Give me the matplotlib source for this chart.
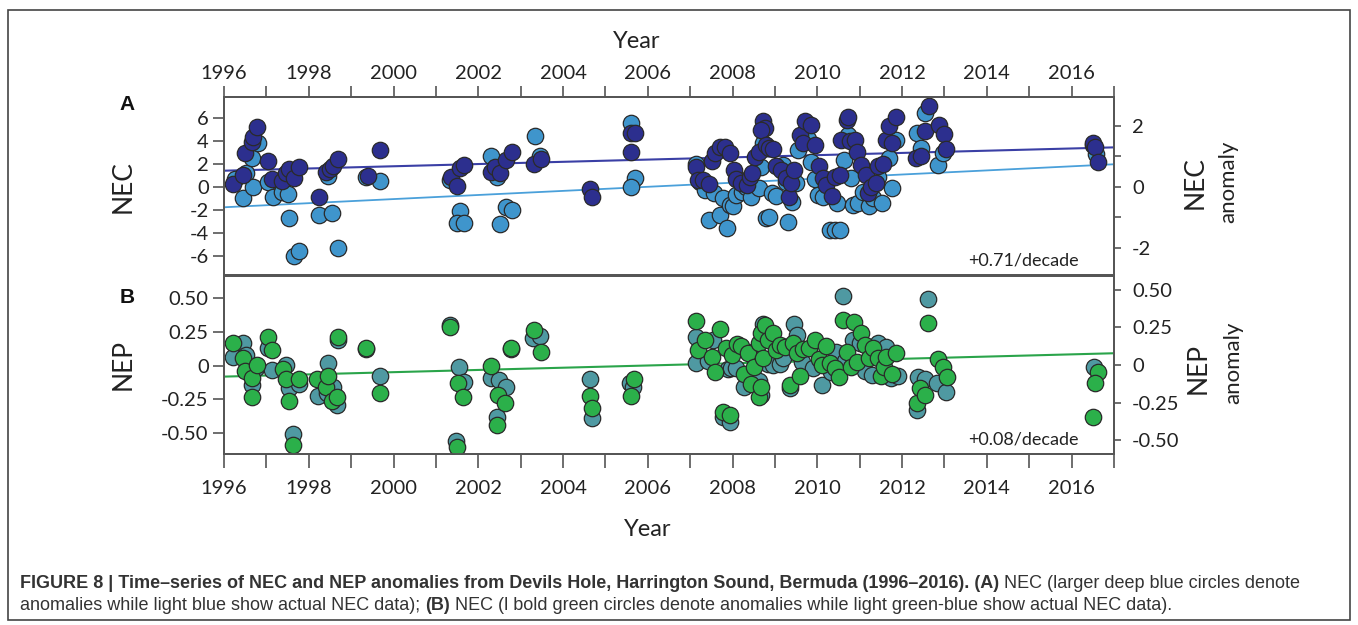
import matplotlib
matplotlib.use("Agg")
import matplotlib.pyplot as plt
from matplotlib.patches import Rectangle
from matplotlib.ticker import MultipleLocator

plt.rcParams['font.family'] = ['Lato', 'DejaVu Sans']
plt.rcParams['axes.unicode_minus'] = False

# ---- NEC (panel A): light blue = actual NEC, deep blue = anomalies
nec_years = [1996.26, 1996.44, 1996.53, 1996.67, 1996.81, 1996.69, 1997.03, 1997.15, 1997.38, 1997.50,
             1997.54, 1997.65, 1997.77, 1998.24, 1998.46, 1998.56, 1998.69, 1999.36, 1999.69, 2001.33,
             2001.56, 2001.49, 2001.66, 2002.31, 2002.45, 2002.51, 2002.65, 2002.80, 2003.34, 2003.46,
             2005.60, 2005.69, 2005.61, 2007.14, 2007.23, 2007.36, 2007.45, 2007.57, 2007.71, 2007.77,
             2007.88, 2007.93, 2008.02, 2008.09, 2008.23, 2008.31, 2008.44, 2008.63, 2008.68, 2008.72,
             2008.80, 2008.87, 2008.94, 2009.03, 2009.18, 2009.25, 2009.30, 2009.40, 2009.50, 2009.54,
             2009.77, 2009.86, 2009.94, 2010.02, 2010.13, 2010.29, 2010.41, 2010.53, 2010.46, 2010.64,
             2010.72, 2010.80, 2010.85, 2010.95, 2011.07, 2011.21, 2011.32, 2011.42, 2011.53, 2011.70,
             2011.77, 2011.86, 2012.36, 2012.44, 2012.55, 2012.84, 2012.96, 2016.58, 2016.50]
nec_values = [0.64, -1.0, 1.22, 2.47, 3.83, 0.0, 0.43, -0.87, -0.43, -0.63,
              -2.75, -6.0, -5.6, -2.46, 0.93, -2.26, -5.3, 0.81, 0.52, 0.58,
              -2.09, -3.19, -3.13, 2.7, 0.81, -3.24, -1.79, -2.03, 4.41, 2.67,
              5.51, 0.73, -0.05, 1.97, 0.43, -0.29, -2.9, -0.58, -2.46, -1.0,
              -3.62, -1.6, -1.68, -0.72, -0.43, -0.05, -0.87, -0.14, 1.74, 3.77,
              -2.75, -2.61, -0.58, -0.81, 1.89, 0.43, -3.04, -1.3, 0.3, 3.19,
              4.12, 2.17, 0.64, -0.72, -0.92, -3.77, -3.77, -3.77, -1.45, 2.32,
              4.5, 0.73, -1.6, -1.39, -0.43, -1.68, -1.0, 0.87, -1.39, 2.47,
              -0.14, 4.06, 4.7, 3.34, 6.38, 1.89, 2.96, 2.84, 3.6]

nec_anom_years = [1996.22, 1996.44, 1996.50, 1996.65, 1996.69, 1996.79, 1997.04, 1997.14, 1997.38, 1997.47,
                  1997.53, 1997.65, 1997.77, 1998.24, 1998.40, 1998.50, 1998.58, 1998.68, 1999.39, 1999.68,
                  2001.35, 2001.49, 2001.56, 2001.66, 2002.29, 2002.39, 2002.51, 2002.65, 2002.80, 2003.32,
                  2003.49, 2004.63, 2004.69, 2005.60, 2005.69, 2005.61, 2007.14, 2007.19, 2007.30, 2007.45,
                  2007.52, 2007.59, 2007.70, 2007.82, 2007.93, 2008.04, 2008.09, 2008.21, 2008.33, 2008.40,
                  2008.46, 2008.52, 2008.63, 2008.72, 2008.76, 2008.68, 2008.80, 2008.87, 2008.96, 2009.03,
                  2009.15, 2009.25, 2009.33, 2009.38, 2009.46, 2009.58, 2009.66, 2009.70, 2009.86, 2009.94,
                  2010.05, 2010.13, 2010.21, 2010.35, 2010.41, 2010.53, 2010.57, 2010.69, 2010.72, 2010.76,
                  2010.88, 2010.93, 2011.03, 2011.15, 2011.19, 2011.27, 2011.39, 2011.42, 2011.54, 2011.62,
                  2011.70, 2011.86, 2011.77, 2012.32, 2012.44, 2012.55, 2012.64, 2012.86, 2013.00, 2013.04,
                  2016.50, 2016.54, 2016.62]
nec_anom_values = [0.23, 1.02, 2.9, 3.9, 4.35, 5.2, 2.23, 0.64, 0.52, 1.16,
                   1.5, 0.78, 1.68, -0.87, 1.3, 1.5, 1.8, 2.38, 0.93, 3.19,
                   0.81, 0.06, 1.6, 1.89, 1.3, 1.74, 1.22, 2.32, 3.04, 1.97,
                   2.38, -0.23, -0.87, 4.64, 4.64, 3.04, 1.68, 0.58, 0.58, 0.23,
                   2.26, 2.9, 3.42, 3.42, 2.9, 1.45, 0.64, 0.3, 0.15, 0.81,
                   1.16, 2.61, 3.04, 5.74, 5.07, 4.93, 3.62, 3.34, 3.25, 1.8,
                   1.45, 0.73, -0.87, 0.3, 1.45, 4.5, 3.77, 5.74, 5.36, 3.62,
                   1.8, 0.73, 0.15, -0.81, 0.87, 1.02, 4.06, 5.8, 6.09, 4.0,
                   4.06, 3.04, 1.89, 1.02, -0.58, 0.0, 0.35, 1.8, 1.97, 4.06,
                   5.28, 6.03, 3.83, 2.47, 2.67, 4.87, 7.02, 5.36, 4.58, 3.25,
                   3.83, 3.42, 2.17]

# ---- NEP (panel B): teal = actual NEP, green = anomalies
nep_years = [1996.22, 1996.44, 1996.52, 1996.65, 1996.75, 1997.03, 1997.14, 1997.47, 1997.54, 1997.63,
             1997.77, 1998.22, 1998.46, 1998.42, 1998.58, 1998.67, 1998.69, 1999.36, 1999.68, 2001.33,
             2001.55, 2001.66, 2001.47, 2002.29, 2002.49, 2002.43, 2002.65, 2002.78, 2003.30, 2003.46,
             2004.63, 2004.69, 2005.58, 2005.65, 2007.13, 2007.14, 2007.42, 2007.54, 2007.89, 2007.78,
             2007.93, 2007.97, 2008.09, 2008.28, 2008.56, 2008.63, 2008.66, 2008.72, 2008.84, 2008.96,
             2009.11, 2009.18, 2009.35, 2009.45, 2009.51, 2009.63, 2009.90, 2010.12, 2010.33, 2010.45,
             2010.61, 2010.65, 2010.85, 2011.00, 2011.12, 2011.29, 2011.42, 2011.63, 2011.74, 2011.90,
             2012.37, 2012.35, 2012.53, 2012.61, 2012.83, 2013.03, 2016.53]
nep_values = [0.067, 0.17, 0.079, -0.143, -0.02, 0.129, -0.032, 0.005, -0.168, -0.506,
              -0.136, -0.224, 0.022, -0.2, -0.155, -0.29, 0.19, 0.121, -0.076, 0.3,
              -0.012, -0.118, -0.555, -0.093, -0.106, -0.378, -0.155, 0.121, 0.203, 0.22,
              -0.1, -0.385, -0.13, -0.16, 0.215, 0.018, 0.037, 0.19, -0.027, -0.378,
              -0.415, -0.02, -0.02, -0.16, 0.116, -0.111, -0.217, 0.309, 0.013, 0.005,
              0.013, 0.055, -0.168, 0.309, 0.227, 0.03, -0.02, -0.143, -0.044, 0.104,
              0.516, 0.037, 0.19, 0.166, -0.037, -0.069, 0.17, 0.136, -0.093, -0.076,
              -0.086, -0.328, -0.1, 0.492, -0.13, -0.193, -0.007]

nep_anom_years = [1996.22, 1996.44, 1996.50, 1996.65, 1996.67, 1996.77, 1997.04, 1997.14, 1997.40, 1997.47,
                  1997.54, 1997.63, 1997.77, 1998.20, 1998.40, 1998.46, 1998.55, 1998.67, 1998.68, 1999.36,
                  1999.68, 2001.33, 2001.53, 2001.65, 2001.49, 2002.31, 2002.47, 2002.43, 2002.63, 2002.78,
                  2003.32, 2003.47, 2004.63, 2004.69, 2005.60, 2005.68, 2007.13, 2007.19, 2007.35, 2007.52,
                  2007.59, 2007.70, 2007.78, 2007.93, 2007.85, 2007.99, 2008.10, 2008.21, 2008.26, 2008.37,
                  2008.44, 2008.50, 2008.63, 2008.68, 2008.63, 2008.66, 2008.76, 2008.72, 2008.84, 2008.96,
                  2009.03, 2009.11, 2009.23, 2009.35, 2009.42, 2009.52, 2009.60, 2009.66, 2009.80, 2009.94,
                  2010.04, 2010.10, 2010.20, 2010.29, 2010.41, 2010.51, 2010.61, 2010.71, 2010.79, 2010.87,
                  2010.94, 2011.03, 2011.12, 2011.23, 2011.32, 2011.42, 2011.50, 2011.58, 2011.63, 2011.76,
                  2011.86, 2012.35, 2012.43, 2012.53, 2012.60, 2012.85, 2012.97, 2013.05, 2016.62, 2016.55,
                  2016.50]
nep_anom_values = [0.166, 0.055, -0.037, -0.23, -0.093, 0.005, 0.21, 0.116, -0.024, -0.1,
                   -0.26, -0.59, -0.1, -0.1, -0.16, -0.076, -0.26, -0.23, 0.21, 0.129,
                   -0.2, 0.289, -0.126, -0.234, -0.605, -0.002, -0.217, -0.44, -0.274, 0.129,
                   0.264, 0.104, -0.224, -0.311, -0.224, -0.1, 0.333, 0.116, 0.19, 0.062,
                   -0.05, 0.272, -0.34, -0.365, 0.129, 0.079, 0.16, 0.146, -0.062, 0.092,
                   -0.136, -0.012, -0.234, -0.16, 0.17, 0.24, 0.3, 0.055, 0.19, 0.24,
                   0.116, 0.153, 0.136, -0.143, 0.17, 0.092, -0.076, 0.121, 0.129, 0.19,
                   0.047, 0.005, 0.146, 0.018, -0.02, -0.081, 0.339, 0.104, -0.012, 0.326,
                   0.03, 0.244, 0.153, 0.055, 0.129, 0.055, -0.076, -0.007, 0.062, -0.062,
                   0.096, -0.274, -0.168, -0.217, 0.319, 0.047, -0.012, -0.081, -0.044, -0.13,
                   -0.378]

# trend lines (start/end, in left-axis units)
trend_years = [1996, 2017]
nec_trend = [-1.79, 1.95]
nec_anom_trend = [1.39, 3.42]
nep_trend = [-0.081, 0.092]

year_ticks = list(range(1996, 2017, 2))
nec_ticks = [6, 4, 2, 0, -2, -4, -6]
nec_right_ticks = [2, 0, -2]
nep_ticks = [0.50, 0.25, 0, -0.25, -0.50]
nep_labels = ['0.50', '0.25', '0', '-0.25', '-0.50']

DEEP = '#2c2f8e'
LIGHT = '#3f95cc'
TEAL = '#4f99a2'
GREEN = '#2bb04a'
EDGE = '#2a2a2a'
SPINE = '#555555'

W, H = 1358, 625
fig = plt.figure(figsize=(W / 100, H / 100), dpi=100)


def fx(px):
    return px / W


def fy(py):
    return 1 - py / H


def style(ax):
    for s in ax.spines.values():
        s.set_color(SPINE)
        s.set_linewidth(1.3)
    ax.tick_params(which='both', colors=SPINE, labelcolor='#222222', labelsize=14.5, width=1.2)


left, right = 224, 1114
axA = fig.add_axes([fx(left), fy(275), fx(right - left), (275 - 97) / H])
axB = fig.add_axes([fx(left), fy(454), fx(right - left), (454 - 276) / H])

# Panel A
axA.plot(trend_years, nec_trend, color='#4aa0da', lw=1.3, zorder=1)
axA.plot(trend_years, nec_anom_trend, color='#3a3fa5', lw=1.5, zorder=1)
axA.scatter(nec_years, nec_values, s=140, c=LIGHT, edgecolors=EDGE, linewidths=0.9, zorder=2)
axA.scatter(nec_anom_years, nec_anom_values, s=140, c=DEEP, edgecolors=EDGE, linewidths=0.9, zorder=3)
axA.set_xlim(1996, 2017)
axA.set_ylim(-7.68, 7.8)
axA.set_yticks(nec_ticks)
axA.set_yticklabels([str(t) for t in nec_ticks])
axA.set_xticks(year_ticks)
axA.xaxis.set_minor_locator(MultipleLocator(1))
axA.xaxis.tick_top()
axA.tick_params(axis='x', which='both', direction='out', length=8)
axA.tick_params(axis='x', pad=3)
axA.tick_params(axis='y', direction='out', length=8, pad=3)
style(axA)
axA.text(0.96, 0.08, '+0.71/decade', transform=axA.transAxes, ha='right', va='center',
         fontsize=13, color='#222222')

axA2 = axA.twinx()
axA2.set_ylim(-2.89, 2.95)
axA2.set_yticks(nec_right_ticks)
axA2.set_yticklabels([str(t) for t in nec_right_ticks])
axA2.yaxis.set_minor_locator(MultipleLocator(1))
axA2.tick_params(axis='y', which='both', direction='out', length=5, pad=8)
style(axA2)

# Panel B
axB.plot(trend_years, nep_trend, color='#2aa44a', lw=1.5, zorder=1)
axB.scatter(nep_years, nep_values, s=140, c=TEAL, edgecolors=EDGE, linewidths=0.9, zorder=2)
axB.scatter(nep_anom_years, nep_anom_values, s=140, c=GREEN, edgecolors=EDGE, linewidths=0.9, zorder=3)
axB.set_xlim(1996, 2017)
axB.set_ylim(-0.654, 0.664)
axB.set_yticks(nep_ticks)
axB.set_yticklabels(nep_labels)
axB.set_xticks(year_ticks)
axB.xaxis.set_minor_locator(MultipleLocator(1))
axB.tick_params(axis='x', which='both', direction='out', length=10, pad=9)
axB.tick_params(axis='y', direction='out', length=8, pad=3)
style(axB)
axB.text(0.96, 0.08, '+0.08/decade', transform=axB.transAxes, ha='right', va='center',
         fontsize=13, color='#222222')

axB2 = axB.twinx()
axB2.set_ylim(-0.593, 0.593)
axB2.set_yticks(nep_ticks)
axB2.set_yticklabels(nep_labels)
axB2.tick_params(axis='y', direction='out', length=5, pad=8)
style(axB2)

# labels
fig.text(fx(637), fy(41), 'Year', ha='center', va='center', fontsize=17, color='#222222')
fig.text(fx(648), fy(529), 'Year', ha='center', va='center', fontsize=17, color='#222222')
fig.text(fx(123), fy(187), 'NEC', rotation=90, ha='center', va='center', fontsize=19, color='#222222')
fig.text(fx(123), fy(365), 'NEP', rotation=90, ha='center', va='center', fontsize=19, color='#222222')
fig.text(fx(1195), fy(183), 'NEC', rotation=90, ha='center', va='center', fontsize=19, color='#222222')
fig.text(fx(1228), fy(182), 'anomaly', rotation=90, ha='center', va='center', fontsize=16, color='#222222')
fig.text(fx(1198), fy(368), 'NEP', rotation=90, ha='center', va='center', fontsize=19, color='#222222')
fig.text(fx(1233), fy(363), 'anomaly', rotation=90, ha='center', va='center', fontsize=16, color='#222222')
fig.text(fx(127), fy(105), 'A', ha='center', va='center', fontsize=15, fontweight='bold',
         family=['Liberation Sans', 'DejaVu Sans'], color='#111111')
fig.text(fx(127), fy(297), 'B', ha='center', va='center', fontsize=15, fontweight='bold',
         family=['Liberation Sans', 'DejaVu Sans'], color='#111111')

# border
fig.patches.append(Rectangle((fx(8), fy(620)), fx(1350 - 8), (620 - 10) / H, transform=fig.transFigure,
                             fill=False, edgecolor='#444444', lw=1.2))

# caption
cap_font = ['Liberation Sans Narrow', 'Liberation Sans', 'DejaVu Sans']
renderer = fig.canvas.get_renderer()


def runs(x, y, parts):
    for txt, wt in parts:
        t = fig.text(fx(x), fy(y), txt, fontsize=13, fontweight=wt, family=cap_font,
                     color='#333333', va='center', ha='left')
        x += t.get_window_extent(renderer).width


runs(20, 584, [('FIGURE 8 | Time\u2013series of NEC and NEP anomalies from Devils Hole, Harrington Sound, '
                'Bermuda (1996\u20132016). (A)', 'bold'),
               (' NEC (larger deep blue circles denote', 'normal')])
runs(20, 606, [('anomalies while light blue show actual NEC data); ', 'normal'),
               ('(B)', 'bold'),
               (' NEC (l bold green circles denote anomalies while light green-blue show actual NEC data).',
                'normal')])

fig.savefig('out.png', dpi=100)
